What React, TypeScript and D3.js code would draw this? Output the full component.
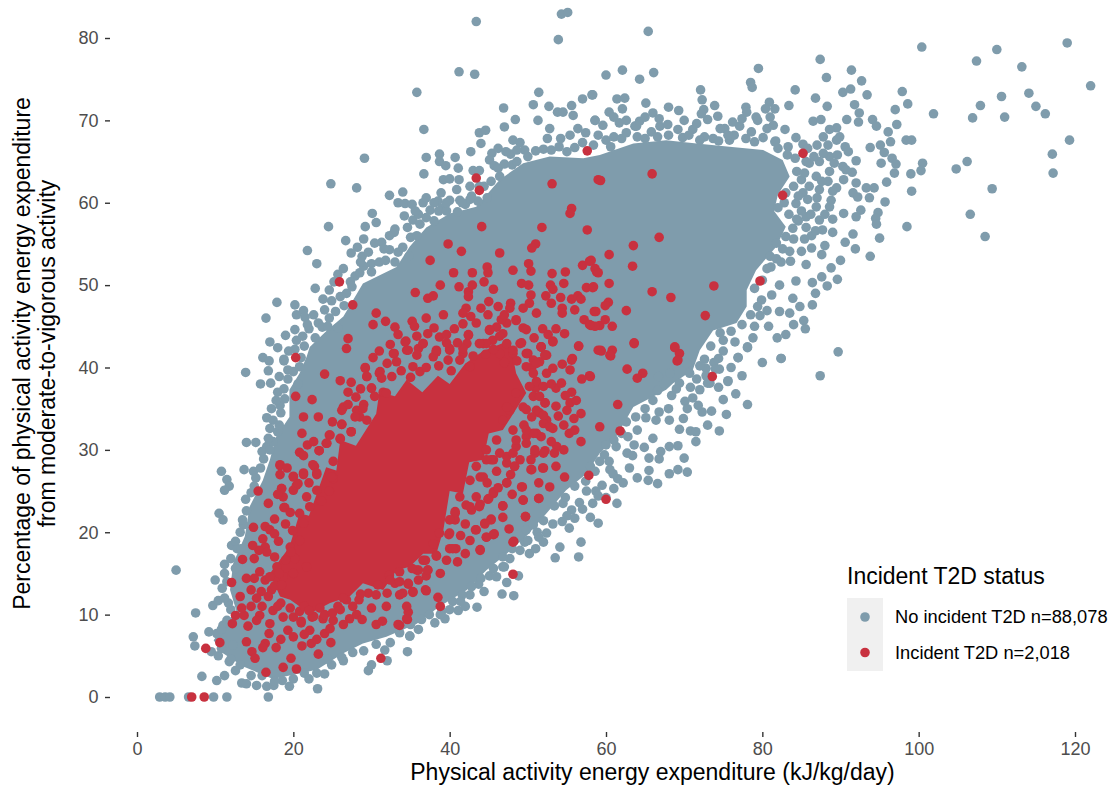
import { useEffect, useRef } from "react";
import * as d3 from "d3";

const xTicks = [0, 20, 40, 60, 80, 100, 120];
const yTicks = [0, 10, 20, 30, 40, 50, 60, 70, 80];

const legendTitle = "Incident T2D status";
const legendLabels = ["No incident T2D n=88,078", "Incident T2D n=2,018"];

// The points merge into solid colour in the middle of the cloud, so single
// values can't be read there. These two outlines, stand
// in for the saturated centres. Every dot that can be told apart is listed below.
const noT2dCore = [
  [9.8, 6.9], [12.7, 10.5], [11.9, 13], [12.3, 16.2], [13.8, 19.5], [14.4, 23.1], [16.1, 26.3], [17, 28.8],
  [17.8, 31.6], [19.5, 34], [19.5, 37.3], [20.8, 39.3], [21.7, 41.3], [22.1, 42.5], [24.3, 44.5], [26.4, 46.2],
  [28.9, 50.2], [33.2, 52.2], [34.9, 54.7], [37, 57], [40, 58.7], [43.4, 59.5], [46.4, 62.8], [49.4, 64.8],
  [52.8, 65.6], [57.1, 65.4], [59.2, 65.8], [63.5, 67.2], [67.7, 67.6], [71.6, 67.2], [75.8, 66.8], [80.1, 66.4],
  [82.6, 65.2], [83.5, 63.2], [82, 61], [81.5, 59], [83, 57.1], [81.8, 54.7], [79.2, 51.8],
  [78, 49.4], [78, 47.4], [76.7, 45.4], [73.7, 44.5], [72, 42.1], [71.1, 39.7], [68.6, 38.1], [67.7, 37.3],
  [63.5, 35.2], [61.3, 31.6], [59.2, 29.6], [57.5, 27.1], [54.9, 25.1], [52.4, 22.3], [49.8, 19.5], [47.3, 17.4],
  [44.7, 15.4], [42.2, 13], [38.7, 11], [35.8, 8.9], [31.9, 7.3], [28.9, 6.5], [26.4, 5.3], [23, 3.3],
  [17.4, 2.2], [13.6, 3.7], [11, 5.3],
];

const incidentCore = [
  [18.3, 12.2], [17, 15], [19.5, 18.2], [20.8, 22.3], [22, 22], [24.2, 27.9], [25.5, 27.5], [26, 31.2],
  [28, 30.5], [30.6, 34.4], [31, 37], [33, 36.5], [34.5, 38.5], [36.5, 37], [38.5, 39], [40, 38],
  [42, 40.5], [44.3, 42], [47.7, 43.3], [48.5, 39.3], [49.8, 36.9], [46.8, 32.4], [45, 32], [44.3, 28.8],
  [42.5, 28.5], [41.7, 24.7], [40, 25], [39.2, 20.3], [38.3, 17.4],
  [36.6, 17.4], [34.9, 15.8], [33.2, 15.4], [31.5, 13], [28.9, 13.8], [27.2, 12.2], [24.7, 11.4], [22.1, 10.1],
  [19.6, 11.8],
];

// [energy expenditure, % from moderate-to-vigorous activity]
const noT2d = [
  [2.9, 0], [3.6, 0], [4.2, 0], [6.6, 0], [9.8, 0], [11.5, 0], [16.8, 0],
  [16.1, 41.2], [16.9, 40.8], [18.8, 40.8], [19.3, 39.7], [13.9, 39.4], [18.2, 38.9], [15.8, 38], [17.1, 38.1],
  [20.8, 40.1], [14, 30.9], [15.2, 30.9], [16.6, 30.4], [17.2, 35], [16.6, 33.9], [17.4, 33.6], [17, 32.6],
  [18.9, 36.2], [10.8, 27.4], [13.7, 27.6], [14.9, 27.4], [15.2, 26.6], [11.5, 26.4], [11.8, 25.6], [11.2, 25.1],
  [10.5, 22.3], [11, 21.5], [13.6, 20.9], [12.1, 18.4], [12.8, 18], [11.2, 16.1], [5, 15.4], [10, 14.2],
  [11.5, 14], [9.7, 11.1], [10.4, 11.7], [11.7, 11.4], [7.5, 10.2], [11, 8.7], [9.2, 7.9], [7.2, 7.3],
  [7.4, 6.2], [10.2, 7.7], [9.5, 5.5], [10.4, 5], [11.8, 4.3], [12.3, 6.3], [13.2, 3.9], [8.3, 2.5],
  [10.2, 2], [11.2, 2.6], [13.4, 1.7], [14, 1.6], [15.3, 1.4], [16.6, 1.3], [17.5, 1.4], [19.5, 1.3],
  [23.1, 1], [22, 2.2], [24, 2.8], [24.9, 3.9], [26.4, 4.4], [29.6, 3.2], [30, 3.9], [32, 4.4],
  [34.6, 5.5], [31.7, 5.7], [34.9, 7.4], [36, 8.2],
  [43.4, 82], [54.3, 82.9], [55.1, 83.1], [53.9, 79.8], [41.2, 75.9], [43.2, 75.6], [35.8, 73.4], [51.4, 73.4],
  [50.7, 71.9], [52.7, 71.7], [53.8, 71], [54.5, 71], [55.6, 71.8], [55.8, 70.6], [57, 72.6], [58.2, 73.1],
  [58.6, 70], [46.9, 71.5], [48.4, 70.1], [51.3, 70], [47, 69.2], [52.8, 69], [52.5, 67.8], [36.7, 68.9],
  [43.8, 68.5], [44.6, 68.8], [44, 67.2], [48.1, 67.6], [49, 67.3], [49.6, 66.4], [47.8, 65.9], [42.7, 66.2],
  [45.4, 66], [45.1, 65.2], [45.7, 64.5], [38.7, 65.9], [40.7, 65.5], [37, 65.5], [29.1, 65.4], [38.7, 65],
  [39.5, 64.5], [41.1, 64.2], [36.7, 63.5], [43, 63.9], [43.8, 63.9], [39.2, 62.8], [40, 62.9], [41.2, 62.8],
  [24.8, 62.3], [28.1, 61.8], [32.3, 60.9], [34, 61.3], [33.4, 60], [34.3, 59.9], [35.2, 59.8], [36.6, 60],
  [38.9, 61.2], [38.5, 60.2], [40.9, 61.6], [40, 60.3], [41.3, 60.3], [42.6, 62], [30.1, 58.7], [29.2, 57.1],
  [30.6, 57.6], [24.5, 57.1], [32.9, 56.4], [32.3, 56], [37.5, 59.1], [39, 59.3], [35.3, 57.9], [26.7, 55.4],
  [29, 55.6], [28.2, 54.6], [27.4, 53.9], [21.8, 54.2], [23, 52.6], [31.3, 55.2], [30.4, 55.1], [32.3, 54.3],
  [28.8, 53.5], [30, 52.6], [25.7, 51.3], [17.9, 47.9], [20.2, 47.6], [16.5, 46], [21.3, 46.9], [20.4, 46.4],
  [21.5, 46.1], [22.8, 49.6], [24.6, 49.4], [23.8, 48.3], [24.9, 48.1], [27.9, 51.1], [17, 43.1], [19, 43.9],
  [20.2, 44.6], [22, 44.7], [23.2, 45.4], [24.6, 46], [20.4, 43.3], [18.8, 41],
  [65.4, 80.8], [100.4, 78.9], [119, 79.4], [107.4, 77.2], [110, 78.6], [113.2, 76.5], [122, 74.2], [87.4, 77.4],
  [91.4, 76.1], [88.2, 75.2], [92.7, 74.8], [79.5, 76.3], [60, 75.5], [62.1, 76.1], [64.3, 75], [66.1, 75.8],
  [78.5, 74.6], [78.7, 74], [72.1, 73.7], [84.2, 73.7], [90.3, 73.4], [91.3, 73.8], [93.4, 73.1], [97.9, 73.5],
  [114.1, 73.3], [110.6, 72.9], [86.8, 72.7], [58.3, 73.1], [61.4, 72.6], [62.4, 72.7], [65.1, 72.1], [72.3, 72.5],
  [80.9, 72.2], [83.4, 71.8], [98.6, 72], [88.3, 71.7], [91.8, 71.9], [107.9, 71.8], [115, 71.7], [116.2, 70.8],
  [101.9, 70.8], [106.9, 70.3], [111, 70.4], [97, 71.3], [62.1, 71.4], [68, 71.6], [69.3, 71.2], [73.9, 71.8],
  [72.5, 71.3], [77.9, 71.6], [81.6, 71.4], [92.4, 70.9], [90.8, 70.1], [92.3, 69.8], [94.1, 70.1], [94.6, 69.3],
  [97.2, 69.5], [58.6, 70], [61.7, 69.7], [63.9, 69.3], [66, 70.9], [73, 70.1], [74.3, 70.5], [79.2, 70.4],
  [86.5, 69.9], [87.5, 70.1], [89.5, 69.1], [82.9, 68.9], [96.1, 68.6], [96.4, 67.4], [98.4, 67.6], [99.1, 67.6],
  [119.3, 67.6], [84.3, 67.9], [85.2, 67.1], [81.7, 67.5], [87, 67], [89.9, 68], [90.6, 66.8], [93.8, 66.7],
  [95.1, 67], [95.6, 66.1], [117.1, 65.9], [106.2, 65], [104.8, 64.1], [117.2, 63.6], [92, 65.1], [96.6, 65.4],
  [97.1, 64.7], [95.2, 64.8], [100.5, 64.8], [100.3, 63.9], [99, 63.5], [96.9, 63.6], [91.5, 63.7], [90.3, 64.4],
  [95.9, 62.5], [92, 62.4], [89.5, 61.8], [93.3, 61.8], [94.3, 61.8], [99.1, 61.4], [109.4, 61.7], [91.6, 61.2],
  [92.2, 60.7], [93.7, 60.6], [95.7, 60.1], [92.6, 59.1], [92, 58.3], [90.4, 58.7], [89, 58], [94.8, 58.8],
  [94.5, 58.1], [94.6, 57.4], [106.6, 58.6], [98.5, 57.1], [108.5, 55.9], [91.6, 56.2], [95, 55.7], [86.3, 56],
  [85.4, 55.6], [88, 54.8], [91.9, 54.4], [93.8, 53.5], [87.6, 53.7], [86.3, 54.5], [85.6, 52.5], [88.8, 52.1],
  [82.4, 52.8], [83.6, 52.9], [81.1, 52.2], [89.6, 50.7], [86.4, 50.3], [88.3, 49.9], [84.3, 50.5], [86.8, 49],
  [83.9, 48.4], [82.2, 50], [81.2, 48.8], [79.9, 48.2], [82.2, 46.8], [83.5, 46.6], [80.6, 46.9], [79.7, 46.3],
  [85.3, 45.7], [85.5, 44.7], [79, 45], [81.9, 43.6], [78.8, 43.6], [76.5, 43.1], [75, 43.3], [78.1, 42.4],
  [89.7, 41.9], [76.9, 41.2], [82.4, 41.1], [74.4, 41.1], [74.5, 39.8], [75.6, 38.4], [87.4, 39], [72.8, 39.9],
  [73.3, 38.1], [70.3, 40.5], [70.7, 39.3], [68.2, 39.3], [69.4, 38.1], [66.7, 38.9],
  [63.7, 69.3], [64.3, 69.9], [66.9, 69.3], [67.9, 69.5], [69.2, 68.9], [71.1, 68.9], [72.6, 68], [73.7, 67.8],
  [75.2, 69], [77.1, 69.3], [77.9, 67.8], [80.1, 67.9], [81.6, 67.4], [83.3, 66.8], [87.8, 68], [88.6, 68.9],
  [89.5, 67.6], [88.4, 67], [87.3, 65], [88.6, 65.6], [86, 64.8], [89.2, 64.8], [90.7, 64], [86.9, 63.2],
  [88.6, 63.8], [86, 62], [87.3, 61.6], [88.8, 60.3], [85.2, 61.2], [84.3, 59.9], [86.9, 59.5], [88.6, 59.5],
  [85.6, 58.3], [87.3, 57.9], [87.7, 56.7], [83.9, 56.9], [83, 55.9], [81.8, 55.1], [83.5, 54.1], [85, 54.1],
  [81, 53.5],
  [34.9, 7.4], [38.1, 9], [39.4, 9.5], [40, 10.6], [41.1, 10.5], [42, 11], [43.5, 10.9], [42.6, 12.4],
  [43.7, 13.7], [45.1, 14.7], [46.7, 12.5], [48.2, 12.3], [47.3, 13.9], [48.8, 14.7], [46.8, 15.8], [47.7, 16.8],
  [53.5, 16.9], [56.5, 17], [54.1, 18.2], [56.8, 18.8], [50.2, 17.4], [51, 18], [52, 18.8], [49, 17.8],
  [52.4, 19.9], [49.8, 20.3], [50.7, 20.9], [53.2, 21], [55.3, 20.5], [54.4, 21.3], [56, 21.7], [58, 21.8],
  [59, 21.1], [55.6, 22.7], [54.5, 23.5], [58.3, 23.5], [61.4, 23.5], [61, 25.3], [59.5, 25.7], [58.7, 25],
  [57.5, 25], [61.5, 26.5], [60.5, 27.6], [60.9, 27.1], [63, 27.8], [65.5, 27.5], [65.4, 26.3], [66.6, 25.9],
  [68.1, 27.1], [69.2, 27.6], [70.4, 27.3], [65.5, 29], [66.8, 28.9], [62.7, 29.6], [63.4, 29.3], [68.1, 30.4],
  [69.2, 30.5], [64.9, 30.3], [61.3, 30.4], [59.8, 29.4], [69.4, 32.5], [70.8, 32.3], [71.5, 32.2], [74.5, 32.3],
  [75.4, 34.3], [72.3, 34.6], [73.5, 34.7], [78.1, 35.5], [75, 36.1], [69.9, 33.8], [68.1, 33.6], [66.4, 33.6],
  [65.1, 33.9], [75.6, 38.3], [76.9, 41.2], [78.1, 42.5], [82.4, 41.1], [73, 38.1], [72, 37.3], [71.1, 36.3],
  [70.1, 35.9],
  // packed dots along the edge of the solid centre
  [10.8, 8.2], [11.5, 9.3], [12, 10.6], [11.2, 12], [10.9, 13.2], [11.2, 15], [12, 16.8], [12.6, 15.6],
  [12.6, 18.9], [13.3, 18], [13.2, 20], [13.5, 21.5], [14, 22.6], [13.9, 24], [14.6, 24.8], [15, 25.6],
  [15.8, 27.8], [16.2, 28.9], [16, 29.8], [17, 30], [17.4, 31], [18, 32.2], [18.2, 33], [18.4, 34.5],
  [18.3, 35.4], [18.8, 37.4], [19.3, 38.6], [20, 39.5], [20.6, 38], [21, 41.2], [21.4, 42.6], [21.2, 43.8],
  [22.8, 43.6], [23.7, 44.9], [24.4, 45], [25.7, 44.8], [25.4, 46.8], [26.5, 47.5], [26, 48.6], [26.8, 49],
  [27.5, 49.8], [27.3, 50.4], [28.5, 51.5], [29, 52.3], [30, 51.6], [31, 52.8], [31.8, 53], [33, 52.8],
  [33.4, 54], [34, 54.6], [34.8, 53.5], [35, 55.8], [34.6, 57], [35.8, 56], [36.2, 57.4], [36, 58.6],
  [37, 58.2], [38, 57.8], [38.6, 59], [39.6, 59], [41, 58.9], [42, 59.8], [42.6, 60.4], [43.6, 60.2],
  [44.8, 60.6], [44.4, 62], [45.3, 62.6], [46.4, 63.2], [46.2, 64.2], [47, 64.7], [48, 64.6], [48.6, 65],
  [50, 65.6], [51, 66.3], [52, 66.5], [53, 66.4], [54, 66.8], [55, 66.2], [56, 66.7], [57, 67.3],
  [55.4, 68.2], [54.2, 67.8], [56.4, 69], [57.4, 68.5], [58.4, 67], [59, 68.2], [60, 67.6], [60.6, 66.8],
  [61, 68], [62, 67.8], [62.6, 68.5], [64, 68], [65, 67.8], [65.8, 68.6], [66.6, 68], [68, 68.2],
  [69.8, 67.9], [70.6, 68.2], [72, 67.6], [74.4, 67.5], [75.8, 67.6], [76.4, 68.2], [78.6, 68.6], [79, 67.4],
  [80.6, 69], [79.4, 70], [82, 66.6], [83.2, 65.8], [84.2, 65.4], [85.6, 65], [84.4, 63.8], [85, 62.8],
  [84, 62], [83, 61.2], [82.8, 60], [82, 59.4], [83.4, 58.6], [84.6, 57.8], [84, 55.6], [82.6, 54.4],
  [81.8, 53.2], [80.6, 52], [80, 50.6], [79, 49.6], [79.4, 47.4], [78.5, 46.4], [77.4, 45.2], [76, 44.4],
  [74.6, 44.2], [73.4, 42.6], [72.6, 41], [72, 40.2], [71.6, 38.6], [69, 37.4], [68.4, 36.6], [66.6, 37.2],
  [66, 36], [65, 35], [63.8, 34], [62.6, 33.4], [62, 32], [61, 31.2], [60, 30.6], [59.2, 28.6],
  [58, 28], [57.4, 26.2], [56, 25.6], [54.8, 24.2], [53.4, 23.2], [52, 21.4], [51.2, 20], [49.6, 18.8],
  [48, 18], [46.8, 17], [45.6, 15.6], [44, 14.4], [42.8, 13.4], [41.6, 12.4], [40.4, 11.6], [39, 10.4],
  [37.4, 10], [36.4, 9.4], [35, 8.8], [33.6, 7.8], [32.4, 6.6], [30.6, 6.4], [29, 5.6], [27.6, 5.4],
  [26.2, 4.8], [24.4, 4.6], [23, 2.9], [21.4, 2.9], [20, 2.2], [18.6, 2], [17.6, 1.9], [16, 2.6],
  [14.6, 2.6], [12.6, 3.2], [12, 4.6], [10.8, 5.9],
  [84.6, 60.8], [85.8, 60.4], [87, 60.6], [85, 59], [86.2, 58.6], [88, 58.6], [84.4, 58], [86.8, 56.6],
  [85.6, 57], [88.4, 62.6], [89, 61.4], [87.6, 62.6], [85.4, 63.6], [86.6, 65.6], [87.8, 66], [85.8, 66.6],
  [89.6, 65.8], [91, 66.2], [90.4, 62.8],
  [59.6, 69.4], [60.4, 71], [61, 70.4], [62.6, 70], [65, 70.4], [66.8, 70.2], [70, 70], [71.6, 69.6],
  [72.2, 70.8], [74.6, 69], [76.2, 69.8], [77.4, 70.2], [78, 71], [80.4, 71.4], [81, 70.4], [81.4, 69.4],
  [75.6, 68.2],
  [46.2, 66.6], [47.2, 66.2], [48.6, 66.4], [43.8, 62], [42.8, 60.8], [41.6, 60], [39.6, 60], [38, 60],
  [37, 60.6], [35.6, 59], [34.2, 58.4], [33, 56.8], [31.6, 54.4], [29.6, 54], [28.6, 52.8], [26.4, 52],
  [25.2, 50.4], [24, 47], [22.6, 46.4], [21.8, 45.2], [20.2, 42.2], [19.4, 42], [18, 42.4], [16.8, 39.6],
  [18, 37], [17.8, 36], [16.8, 31.4],
  [75, 42], [73.8, 40.6], [72.8, 39], [70.8, 37.6], [74, 39.8], [76, 40], [74.4, 37.6], [71.8, 35.4],
  [70.4, 35], [68, 35], [66.8, 34.6], [64, 32.4], [62.8, 31.6], [66, 31.4], [63.6, 30.6], [60.4, 28.6],
  [58.6, 27.4], [59, 24.4], [56.6, 23.6], [55, 22], [51.4, 19.4], [50, 19], [47, 15.8], [46, 14.6],
  [44.4, 12.8], [41.4, 11.6], [38.8, 10],
  [57, 22.8], [60, 24.2], [62.2, 26], [64, 26.6], [67, 29.8], [70, 29], [71.5, 31], [73, 33],
  [76.6, 36.8], [77.4, 39], [80, 40.6], [83, 44], [84, 45.2], [80.8, 45], [86.4, 47.6], [84.8, 47.4],
  [87.6, 51], [90, 53], [89, 56.4], [90.6, 55.2],
];

const incident = [
  [7, 0], [8.6, 0],
  [25.9, 50.4], [27.6, 47.6], [43.4, 63], [43.8, 61.5], [53.1, 62.3], [57.6, 66.3], [59, 62.8], [44.1, 57.1],
  [51.8, 57], [55.6, 59.3], [55.4, 58.7], [57.6, 56.7], [39.8, 55], [41.5, 54.1], [46.4, 53.9], [37.5, 53],
  [51, 55], [50.5, 54.5], [40.5, 51.5], [42.9, 51.5], [44.8, 52.2], [44.9, 51.5], [44.4, 50.4], [48.1, 51.8],
  [50.1, 52.6], [50.4, 51.7], [53.1, 51.4], [54.8, 51.6], [57, 52.4], [57.9, 52.9], [58.8, 51.6], [38.8, 50],
  [35.6, 49.1], [37.2, 48.4], [37.9, 48.7], [41.2, 49.8], [42.4, 49.2], [42.9, 50], [45.6, 49.5], [49.2, 50.2],
  [50.1, 50], [52.9, 50], [54.6, 50.2], [53.2, 49.5], [57.5, 49.7], [58.3, 49.7], [42.4, 48.6], [50.4, 48.8],
  [52.3, 48.7], [54.2, 48.5], [55.6, 48.3], [56.4, 48.7], [56.8, 48.3], [53, 47.8], [30.6, 46.6], [30.2, 45.2],
  [31.8, 45.6], [33, 44.9], [35.2, 45.6], [35.5, 45], [37, 46], [39.2, 46.4], [42.1, 47.2], [41.7, 46.6],
  [42.7, 46.2], [44.9, 46.4], [46.2, 47.4], [47.8, 47.8], [47.7, 47.2], [49.4, 47.2], [50.2, 47.8], [51.1, 46.6],
  [54.4, 47.2], [54.4, 46.6], [56, 47], [58.5, 46.8], [57.2, 45.8], [58.1, 45.1], [59.2, 45.1], [27, 43.5],
  [26.8, 42.3], [20.3, 41.2], [37.2, 44.1], [38.7, 43.7], [39.6, 44], [40.6, 44.7], [41.7, 45.3], [42.4, 43.9],
  [34.4, 43.2], [32.9, 41.7], [34.5, 42.1], [36, 42.3], [36.6, 42.9], [38.3, 41.9], [40, 42.1], [41.7, 41.7],
  [45.1, 44.5], [46, 44.9], [46.8, 44.1], [44.3, 42.9], [45.5, 43.3], [47.3, 42.9], [48.5, 45.7], [49.4, 44.8],
  [49, 42.9], [48.1, 41.7], [46.4, 41.7], [51.9, 44.7], [53.6, 44.7], [54.7, 44.1], [53.2, 43.2], [51.7, 42.5],
  [52.2, 41.5], [50, 41.7], [56.5, 42.6], [59, 42.1], [55.7, 41.1],
  [59.3, 62.7], [65.9, 63.5], [85.2, 66], [82.6, 60.9], [66.8, 55.8], [63.5, 54.8], [60.4, 53.7], [63.4, 52.3],
  [58.1, 53], [58.6, 52], [59, 51.5], [60.4, 50.2], [58.4, 49.8], [65.9, 49.2], [68.3, 48.5], [73.8, 49.9],
  [79.7, 50.5], [60.3, 47.9], [59.9, 47.5], [58.7, 46.8], [62.6, 46.9], [59.9, 45.8], [60.8, 45], [58.6, 45],
  [57.9, 45.2], [72.7, 46.3], [63.6, 43], [59.4, 42], [60.8, 42.1], [60.6, 41.4], [68.8, 42.4], [69.4, 41.7],
  [69.1, 40.8], [62.7, 39.8], [64.7, 39.3], [64, 38.7], [73.6, 38.9], [58, 38.9],
  [48.1, 14.9], [60, 24], [57.8, 26.9], [43.9, 17.9], [48.2, 18.9], [49.7, 21.9], [46.8, 23.2], [51.4, 24.1],
  [49.4, 23.9], [49.3, 25.5], [47.3, 26], [52.8, 25.5], [54.7, 26.7], [51.9, 27.8], [50.5, 27.6], [61.8, 32.3],
  [59.2, 32.8], [61.5, 35.5], [55.3, 32], [56.8, 31], [55.9, 33.8], [53.7, 30.4], [53.4, 29.6], [52.2, 29.9],
  [50.9, 29.6], [69.2, 40.9], [68.8, 42.5], [59.3, 42.1], [60.5, 41.5], [63.6, 42.9], [56.5, 42.6], [57.9, 39],
  [56.9, 38.6], [53.6, 37.5], [54.3, 38.1], [55.6, 37], [55.4, 35.7], [56.2, 36], [56.8, 34.4], [53.6, 35.3],
  [53.9, 34.1], [52.2, 35.7], [51.7, 31.6], [53.2, 32.6], [55.6, 40.9], [54.4, 40.4], [55.4, 39.7], [51.7, 42.5],
  [52.4, 41.5], [49.8, 41.7], [53.2, 43.1], [45.6, 28.8], [43.9, 26.7], [45.6, 24.7], [44.9, 24], [43.9, 23.4],
  [42.8, 22.7], [42.1, 23.3], [40.7, 22.3], [40.7, 21.5], [45.3, 21.6], [44.5, 21.1], [43.3, 20.3], [45.6, 19.7],
  [44.7, 19.4], [40, 18], [40.8, 18], [39.9, 19.7], [38.3, 17.1], [36.9, 16.6], [35.8, 15.4], [37.2, 15.4],
  [37, 14.7], [37, 12.9], [38.5, 12.1], [38.8, 11], [34.7, 13.7], [35.3, 12.7], [34.7, 10.3], [34.6, 9.4],
  [33.6, 8.7], [47.3, 28.4], [48.3, 28], [49, 28.8], [38.3, 41.9], [40, 42.3], [42.2, 42.9], [44.7, 42.9],
  [48.1, 42.1], [50.5, 40], [51, 37.5], [51.5, 34.5], [49.5, 33],
  [24, 39.2], [26, 38.4], [27.4, 38.2], [20.3, 36.5], [22.4, 36.1], [21.3, 34], [21.1, 32],
  [21.8, 30.6], [20.8, 29.7], [21.3, 29.3], [23.3, 29.9], [24.6, 31.8], [24.2, 30.8], [26, 31.3], [26.2, 33.1],
  [26.4, 35.2], [27, 35.5], [27.4, 32.2], [29.2, 39.9], [29.4, 38.9], [31, 39.3], [30, 37.5], [31.5, 37],
  [29, 35.5], [28.5, 34], [18.3, 28.1], [18.3, 27], [20, 26.7], [21.3, 27], [22.7, 28], [23, 27],
  [24.7, 27], [25.1, 26.5], [15.5, 25], [18.5, 25.3], [18.7, 24.3], [20, 25.1], [20.4, 25.7], [16.8, 23.5],
  [18.8, 23], [17.6, 21.6], [14.9, 20.6], [16.4, 20.7], [17, 20.3], [19.9, 20.2], [16.1, 19.2], [16.4, 18.2],
  [18.1, 18.9], [16.6, 17.6], [13.5, 16.7], [15, 16.8], [15.7, 15.2], [14, 14.4], [15, 14.4], [16.4, 14.2],
  [12.1, 13.9], [17.2, 13], [15.9, 12.8], [13.2, 12.2], [15.3, 12], [17.4, 10.5], [12.6, 9.9], [13.7, 9.9],
  [12.2, 8.9], [14.2, 8.6], [15.7, 9.9], [15.3, 9.3], [17, 8.9], [16.9, 7.7], [18.7, 9.7], [20, 9.7],
  [21, 9], [19.3, 8.1], [20, 7.3], [10.6, 6.6], [8.8, 5.9], [14, 6.7], [16.4, 6.5], [16.1, 6],
  [14.7, 5.5], [15.1, 4.7], [21.1, 6.2], [22.3, 6.5], [23.2, 5.2], [19.7, 4.7], [16.5, 3], [18.7, 3.6],
  [20.4, 3.4], [22.1, 8.1], [24, 7.7], [24.7, 8.3], [22.4, 9.7], [23.8, 9.5], [25.1, 9.3], [27.2, 9.5],
  [28.1, 10], [25.7, 11], [26.8, 11.8], [31.9, 11], [30.6, 8.8], [31.4, 9.2], [33.4, 8.8], [34.5, 9.5],
  [34.7, 13.8], [34, 12.6], [35.3, 12.8], [34.5, 11], [36.9, 13], [31.2, 4.7], [33, 13.8], [36, 15.4],
  // packed dots around the solid red centre
  [29.2, 40], [29.4, 38.9], [31.1, 39.5], [31.3, 38.7], [32.6, 38.9], [30, 37.5], [30.4, 36.5], [31.9, 36.9],
  [26.2, 34.8], [28.1, 34.8], [28.9, 35], [27.9, 34], [29.4, 33.6], [26.2, 33.1], [27.4, 32.2], [24.7, 31.8],
  [26, 31.4], [24.3, 30.8], [23.3, 29.9], [25.1, 28.6], [32.8, 41.7], [34.3, 43.1], [34.7, 42.1], [36.6, 42.9],
  [35.8, 41.5], [33.2, 40.7], [35.3, 40.1], [36.2, 39.5], [37.9, 41.3], [38.3, 42.1], [39.8, 40.9], [41.3, 40.9],
  [42.6, 40.1], [41.7, 42.3], [42.4, 44], [43.8, 42.9], [45.1, 44.6], [46.4, 43.8], [47.3, 45.4], [48.5, 45.8],
  [49.8, 44.6], [49.2, 43], [49.9, 41.7], [51.7, 42.5], [51.5, 40.7], [50.7, 40.9], [49.8, 40.1], [52.2, 41.5],
  [52.4, 39.3], [51.1, 38.3], [50.2, 37.7], [52.2, 35.7], [51.1, 34.8], [52.4, 33.6], [50.7, 36.5], [49.4, 35.2],
  [52, 29.6], [50.9, 30], [52, 27.8], [50.4, 27.6], [51.1, 32], [49.8, 31.6], [48.1, 32.4], [48.5, 30.4],
  [47.3, 29.2], [48.3, 28], [45.3, 28.8], [44.3, 26.7], [45, 24.1], [45.6, 24.9], [43.4, 24.3], [42.6, 23.1],
  [43.8, 23.1], [46.8, 23.2], [47.3, 26], [49.2, 25.5], [51.4, 24.1], [49.4, 23.9], [49.7, 21.9], [45.3, 21.5],
  [44.5, 21], [43.4, 20.3], [44.7, 19.4], [45.7, 19.8], [48.1, 18.8], [43.9, 17.8], [40.4, 18], [40, 19.9],
  [38.7, 19.9], [37.9, 18.6], [38.3, 17.2], [36.6, 16.6], [37.2, 15.4], [33.6, 15.2], [32.3, 14.8], [40, 21.5],
  [40.7, 22.5], [41.3, 24.3], [42.6, 26.3], [43.4, 28], [44.7, 30], [46, 31.2], [46.8, 33.6], [47.7, 34.8],
  [48.5, 36.9], [47.3, 35.2], [18.3, 28.2], [20, 26.8], [21.3, 27.2], [22.5, 28.2], [23, 27.2], [24.9, 26.7],
  [18.5, 25.3], [20.6, 25.9], [21.7, 24.3], [23, 25.1], [22.1, 23.1], [20.8, 22.3], [21.3, 21.1], [18.9, 23],
  [19.6, 18.2], [20.8, 19], [20.2, 16.8], [17.9, 15.8], [20, 15], [17, 14.6], [18.7, 14.6], [21.7, 15.8],
  [17.6, 13.5], [18.5, 13.6], [18.2, 15], [19, 16.6], [19.7, 17.6], [16.8, 12.2], [18.4, 11.4], [19.6, 10.8],
  [20.8, 10.4], [21.4, 11], [22.6, 9.8], [24, 10], [25, 10.2], [26, 10.6], [27.6, 11], [28.4, 11.8],
  [29.6, 12.6], [30.6, 12.4], [30.8, 13.6], [32.4, 14.2], [33.6, 14], [35.2, 15.6], [21, 9.2], [28.6, 12.5],
  [26.4, 12], [23.4, 10.8], [22, 10.5],
  [48.1, 29.6], [49.8, 30.8], [50.7, 32], [52, 33.2], [52.8, 32.8], [49.8, 32.4], [48.5, 31.2], [46.4, 29.6],
  [44.7, 28.8], [52, 34.2], [49.8, 34.9], [50.5, 34], [52, 37.7], [51.5, 36.5], [50.7, 39.3], [51.1, 40.5],
  [53.2, 39.9],
  [32, 40.5], [33.8, 39.6], [35, 38.8], [37, 40], [38.6, 40.2], [40.2, 39.6], [41, 43], [43, 41.4],
  [44.6, 41.6], [45.6, 42.2], [47, 40.6], [48.6, 40.8], [33.4, 44], [35.8, 43.8], [38, 44.8], [39.6, 43],
  [43.4, 45.4], [44, 47.2], [46.6, 45.8], [45, 48], [47, 46.4], [52.6, 44], [50.8, 43.6], [53, 38],
  [54.8, 36.6], [55, 34.8], [54.6, 33], [56, 32.4], [53, 31], [54.6, 30], [50.4, 28.8], [51.4, 26],
  [53.6, 28], [46, 27.4], [47.8, 27], [44.8, 26], [46.2, 25.4], [48, 24.6], [46.8, 21.8], [47.6, 20.4],
  [42, 21], [42.6, 19], [41.4, 19.6], [42, 17.4], [39.6, 16.6], [41, 16.4], [38.8, 15], [36, 14.2],
  [32, 12.6], [33.6, 12.4], [30, 10.8], [28.8, 9.4], [26.4, 8.8], [24.8, 6.6], [23, 7], [21.4, 7.6],
  [18.4, 7], [17.8, 6], [18, 11], [16, 11], [14.6, 11], [13.4, 10.8], [14.6, 13], [15.6, 17.8],
  [17.6, 17], [14.8, 18.4], [17.6, 19.8], [19, 21], [19.6, 22.4], [18, 24.6], [19.2, 27.8], [22, 26],
  [23.6, 23.8], [24.6, 25], [22.6, 31], [25, 33.4], [23.2, 34], [28, 36.4], [27, 37], [28.6, 37.4],
  [32.4, 42.8], [31, 42], [30.2, 41.2],
];

const width = 1114;
const height = 789;
const grey = "#7f9cac";
const red = "#c8313f";
const tickColor = "#4d4d4d";
const fontFamily = "'Liberation Sans', Arial, sans-serif";
const dotRadius = 4.8;

const drawChart = (svgEl: SVGSVGElement) => {
  const svg = d3.select(svgEl);
  svg.selectAll("*").remove();

  const x = d3.scaleLinear().domain([0, 120]).range([137, 1075]);
  const y = d3.scaleLinear().domain([0, 80]).range([697, 38]);

  const outline = d3.line()
    .x((d) => x(d[0]))
    .y((d) => y(d[1]))
    .curve(d3.curveLinearClosed);

  // axes first, no domain line, ggplot minimal look
  const xAxis = svg.append("g")
    .attr("transform", "translate(0,732)")
    .call(d3.axisBottom(x).tickValues(xTicks).tickSize(5).tickPadding(5));
  const yAxis = svg.append("g")
    .attr("transform", "translate(110,0)")
    .call(d3.axisLeft(y).tickValues(yTicks).tickSize(5).tickPadding(6.5));
  [xAxis, yAxis].forEach((axis) => {
    axis.select(".domain").remove();
    axis.selectAll("line").attr("stroke", "#333333").attr("stroke-width", 1.4);
    axis.selectAll("text")
      .attr("fill", tickColor)
      .attr("font-family", fontFamily)
      .attr("font-size", 18);
  });

  // no incident T2D underneath
  svg.append("path").attr("d", outline(noT2dCore)).attr("fill", grey);
  svg.append("g").selectAll("circle")
    .data(noT2d)
    .join("circle")
    .attr("cx", (d) => x(d[0]))
    .attr("cy", (d) => y(d[1]))
    .attr("r", dotRadius)
    .attr("fill", grey);

  // incident T2D on top
  svg.append("path").attr("d", outline(incidentCore)).attr("fill", red);
  svg.append("g").selectAll("circle")
    .data(incident)
    .join("circle")
    .attr("cx", (d) => x(d[0]))
    .attr("cy", (d) => y(d[1]))
    .attr("r", dotRadius)
    .attr("fill", red);

  // axis titles
  svg.append("text")
    .attr("x", 652.5)
    .attr("y", 780)
    .attr("text-anchor", "middle")
    .attr("font-family", fontFamily)
    .attr("font-size", 23)
    .attr("fill", "#000")
    .text("Physical activity energy expenditure (kJ/kg/day)");

  const yTitle = svg.append("text")
    .attr("transform", "translate(30,353.5) rotate(-90)")
    .attr("text-anchor", "middle")
    .attr("font-family", fontFamily)
    .attr("font-size", 23)
    .attr("fill", "#000");
  yTitle.append("tspan").attr("x", 0).attr("y", 0)
    .text("Percentage of physical activity energy expenditure");
  yTitle.append("tspan").attr("x", 0).attr("y", 25)
    .text("from moderate-to-vigorous activity");

  // legend
  const legend = svg.append("g");
  legend.append("text")
    .attr("x", 847)
    .attr("y", 584)
    .attr("font-family", fontFamily)
    .attr("font-size", 23)
    .attr("fill", "#000")
    .text(legendTitle);
  legend.append("rect")
    .attr("x", 847)
    .attr("y", 598)
    .attr("width", 36)
    .attr("height", 73)
    .attr("fill", "#f0f0f0");
  legendLabels.forEach((label, i) => {
    const cy = 617 + i * 35.5;
    legend.append("circle")
      .attr("cx", 865)
      .attr("cy", cy)
      .attr("r", dotRadius)
      .attr("fill", i === 0 ? grey : red);
    legend.append("text")
      .attr("x", 895)
      .attr("y", cy + 6)
      .attr("font-family", fontFamily)
      .attr("font-size", 18.3)
      .attr("fill", "#000")
      .text(label);
  });
};

export default function App() {
  const ref = useRef<SVGSVGElement>(null);

  useEffect(() => {
    if (ref.current) drawChart(ref.current);
  }, []);

  return (
    <svg
      ref={ref}
      width={width}
      height={height}
      style={{ position: "absolute", left: 0, top: 0, background: "#fff" }}
    />
  );
}
